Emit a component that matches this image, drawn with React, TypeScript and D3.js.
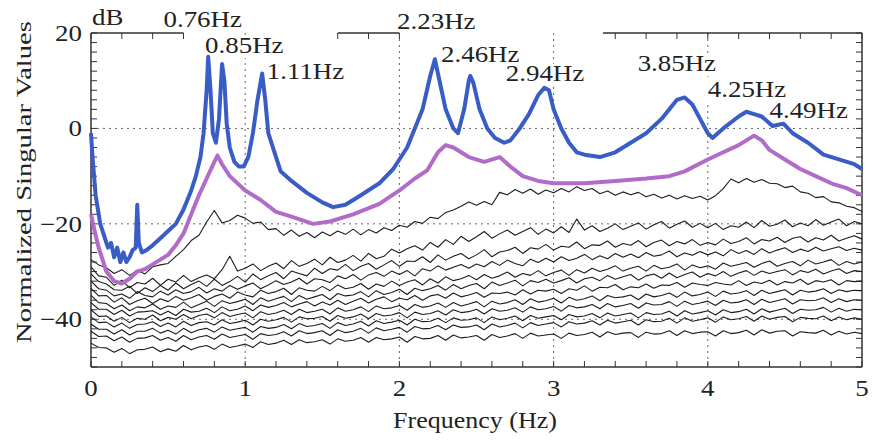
import React from "react";
import * as d3 from "d3";

const W = 872;
const H = 440;

// thin curves are sampled every 0.05 Hz
const gridFreq = d3.range(0, 101).map((i) => i * 0.05);

// 1st singular value (blue)
const blueFreq = [0, 0.01, 0.03, 0.06, 0.09, 0.11, 0.13, 0.15, 0.17, 0.19, 0.21, 0.23, 0.25, 0.27, 0.29, 0.3, 0.31, 0.33, 0.36, 0.4, 0.45, 0.5, 0.55, 0.6, 0.65, 0.68, 0.71, 0.73, 0.75, 0.76, 0.775, 0.79, 0.81, 0.83, 0.85, 0.865, 0.88, 0.9, 0.93, 0.96, 0.99, 1.02, 1.05, 1.08, 1.11, 1.13, 1.15, 1.19, 1.23, 1.3, 1.4, 1.5, 1.57, 1.65, 1.75, 1.87, 1.96, 2.05, 2.1, 2.15, 2.2, 2.23, 2.26, 2.3, 2.35, 2.38, 2.42, 2.45, 2.46, 2.48, 2.52, 2.57, 2.62, 2.68, 2.72, 2.78, 2.84, 2.9, 2.94, 2.97, 3.0, 3.05, 3.1, 3.15, 3.2, 3.3, 3.4, 3.5, 3.6, 3.7, 3.8, 3.85, 3.9, 3.95, 4.0, 4.03, 4.1, 4.2, 4.25, 4.3, 4.35, 4.42, 4.49, 4.55, 4.65, 4.75, 4.85, 4.95, 5.0];
const blueDb = [-1, -6, -14, -20, -23, -25, -24, -27, -25, -28, -26, -28, -27, -25.5, -25, -16, -24, -26, -25.5, -24.5, -23, -21.5, -20, -17, -13, -10, -6, -1, 8, 15, 8, -1, -3, 2, 13.5, 10, 1, -4, -7, -8, -8, -6, -1, 6, 11.5, 6, -1, -5, -9, -11, -13.5, -15.5, -16.5, -16, -14, -11.5, -8.5, -4, 0, 4, 11, 14.5, 10, 4, 0, -1, 4, 10, 11, 9.5, 4, 0, -2, -3, -2.5, 0, 3, 7, 8.5, 8, 4, 0, -3, -5, -5.5, -6, -5, -3, -1, 2, 6, 6.5, 5, 2, -1, -2, 0, 2.5, 3.5, 3, 2.5, 0.5, 1, -1, -3, -5.5, -6.5, -7.5, -8.5];

// 2nd singular value (purple)
const purpleFreq = [0, 0.02, 0.05, 0.1, 0.15, 0.2, 0.25, 0.3, 0.35, 0.4, 0.45, 0.5, 0.55, 0.6, 0.65, 0.7, 0.75, 0.8, 0.82, 0.85, 0.9, 1.0, 1.1, 1.2, 1.3, 1.44, 1.55, 1.7, 1.87, 2.0, 2.1, 2.18, 2.25, 2.3, 2.35, 2.45, 2.55, 2.65, 2.72, 2.8, 2.9, 3.0, 3.2, 3.4, 3.6, 3.75, 3.85, 4.0, 4.1, 4.2, 4.3, 4.35, 4.4, 4.5, 4.6, 4.7, 4.8, 4.9, 5.0];
const purpleDb = [-18, -21, -25, -30, -32, -32.5, -31.5, -30, -29.5, -28.5, -27.5, -26.5, -24.5, -22, -18, -14, -10.5, -7, -5.7, -7.5, -10, -13, -15, -17.5, -18.5, -20, -19.5, -18, -15.8, -13, -10.5, -8.8, -5, -3.5, -4, -6, -7, -6, -8, -10, -11, -11.5, -11.5, -11, -10.5, -10, -9, -6.5, -5, -3.5, -1.5, -2.5, -4.5, -6.5, -8.5, -10, -11.5, -12.5, -14];

// remaining singular values (thin black), one value per gridFreq
const sv3 = [
  -27.5, -28.6, -29.2, -30.4, -29.6, -30.8, -29.7, -30.5, -29.0, -28.6,
  -28.3, -26.8, -25.4, -23.5, -22.4, -19.6, -17.2, -19.8, -19.3, -18.2,
  -18.8, -19.9, -19.6, -21.2, -21.0, -22.4, -21.3, -22.6, -21.8, -22.9,
  -21.7, -22.5, -21.5, -22.2, -21.1, -22.3, -21.2, -21.9, -20.8, -21.4,
  -20.3, -20.7, -19.5, -19.9, -18.6, -18.9, -17.6, -17.1, -16.3, -15.4,
  -16.1, -15.3, -16.0, -13.4, -13.9, -12.8, -13.6, -12.7, -13.8, -12.9,
  -13.5, -12.6, -13.3, -12.2, -13.0, -12.6, -13.7, -13.1, -14.0, -13.3,
  -13.9, -13.4, -14.3, -13.8, -14.6, -14.0, -14.8, -14.1, -14.7, -14.2,
  -15.0, -14.1, -12.6, -10.6, -11.4, -10.5, -11.3, -10.7, -11.5, -11.6,
  -12.4, -12.1, -13.3, -13.6, -14.5, -14.3, -15.4, -15.6, -16.3, -16.6, -17.4,
];
const sv4 = [
  -29.0, -30.9, -31.2, -32.9, -31.8, -33.4, -32.3, -32.6, -31.4, -32.9,
  -31.6, -32.2, -30.8, -32.1, -31.3, -30.7, -31.5, -29.6, -26.8, -29.9,
  -29.3, -28.4, -29.8, -28.9, -28.2, -29.4, -27.7, -28.9, -28.3, -27.4,
  -28.6, -27.0, -28.1, -27.6, -26.6, -27.8, -26.2, -27.3, -26.8, -25.3,
  -26.1, -25.2, -24.6, -25.5, -23.9, -24.9, -23.3, -24.3, -22.6, -23.7,
  -22.7, -21.6, -23.0, -22.1, -21.3, -22.4, -21.6, -20.8, -22.2, -21.1,
  -21.9, -20.6, -21.8, -19.0, -21.3, -20.4, -21.6, -20.9, -20.0, -21.2,
  -20.5, -19.8, -21.1, -20.2, -19.5, -20.9, -20.1, -19.4, -20.7, -19.9,
  -20.8, -19.9, -21.2, -20.4, -20.7, -19.6, -20.8, -19.3, -20.5, -20.1,
  -19.2, -20.6, -19.8, -20.4, -19.1, -20.3, -19.6, -19.0, -20.4, -19.5, -20.0,
];
const sv5 = [
  -30.5, -32.1, -32.6, -33.8, -33.9, -33.1, -34.6, -33.4, -34.2, -32.9,
  -33.9, -32.4, -33.6, -32.7, -32.0, -33.1, -31.6, -32.9, -32.1, -31.0,
  -32.2, -30.5, -31.7, -30.9, -30.2, -31.5, -29.9, -30.4, -30.9, -29.3,
  -30.4, -29.4, -29.7, -28.5, -29.8, -28.9, -28.3, -29.5, -28.6, -27.7,
  -28.9, -27.8, -27.9, -26.9, -28.1, -26.5, -27.6, -26.8, -26.2, -27.3,
  -26.5, -25.4, -26.9, -25.9, -25.6, -24.9, -26.2, -25.0, -25.3, -24.3,
  -25.5, -24.7, -24.9, -23.8, -25.2, -24.4, -24.5, -23.6, -24.9, -24.1,
  -24.5, -23.5, -24.8, -23.9, -23.4, -24.6, -23.7, -24.2, -23.3, -24.5,
  -23.9, -24.4, -23.2, -24.1, -23.7, -22.9, -24.2, -23.3, -23.6, -22.8,
  -23.9, -23.0, -22.7, -23.8, -22.9, -23.4, -22.4, -23.6, -23.0, -22.5, -23.2,
];
const sv6 = [
  -32.0, -33.6, -33.9, -35.1, -34.7, -35.6, -34.2, -35.0, -35.3, -34.1,
  -34.9, -33.8, -34.6, -34.2, -33.3, -34.5, -33.6, -34.1, -32.9, -33.7,
  -33.0, -32.4, -33.6, -32.8, -31.9, -32.7, -32.2, -31.4, -32.6, -31.5,
  -31.7, -32.3, -30.9, -31.5, -30.6, -31.8, -30.7, -30.2, -31.0, -29.9,
  -30.6, -29.8, -30.9, -29.4, -29.9, -28.8, -29.7, -29.1, -28.5, -29.3,
  -28.4, -29.0, -27.9, -28.7, -27.6, -28.3, -28.8, -27.4, -28.1, -27.2,
  -28.0, -26.9, -27.7, -27.2, -26.4, -27.5, -26.7, -27.3, -26.2, -27.0,
  -26.3, -27.1, -26.0, -26.8, -26.5, -25.7, -26.9, -26.1, -26.6, -25.8,
  -26.5, -25.9, -26.7, -25.4, -26.2, -25.6, -26.4, -25.2, -26.1, -25.5,
  -25.0, -26.0, -25.3, -25.8, -24.9, -25.7, -25.2, -24.8, -25.6, -25.1, -25.5,
];
const sv7 = [
  -33.5, -35.1, -35.0, -36.4, -35.5, -36.9, -36.1, -35.6, -36.7, -35.7,
  -36.3, -35.2, -36.0, -35.5, -34.8, -36.0, -35.2, -34.7, -35.6, -34.3,
  -34.9, -35.3, -33.9, -34.6, -34.2, -33.5, -34.8, -33.4, -33.9, -34.1,
  -33.1, -34.0, -32.8, -33.6, -33.3, -32.5, -33.7, -32.6, -33.1, -32.0,
  -32.9, -32.2, -31.7, -32.8, -31.5, -32.4, -31.1, -31.9, -31.5, -30.8,
  -31.7, -30.6, -31.4, -30.9, -30.1, -31.2, -30.4, -30.8, -29.8, -30.9,
  -30.2, -29.7, -30.8, -29.6, -30.3, -29.3, -30.0, -29.5, -28.8, -29.9,
  -29.3, -28.9, -29.9, -28.7, -29.4, -29.1, -28.4, -29.7, -28.6, -29.2,
  -28.8, -29.5, -28.2, -28.9, -28.5, -28.1, -29.1, -28.3, -27.8, -28.9,
  -28.3, -27.9, -28.8, -27.6, -28.4, -28.0, -27.5, -28.7, -27.9, -28.4, -28.0,
];
const sv8 = [
  -35.0, -36.5, -36.7, -37.8, -37.0, -38.2, -37.4, -37.6, -36.8, -37.9,
  -37.2, -37.5, -36.4, -37.6, -36.9, -36.2, -37.3, -36.1, -36.7, -36.3,
  -35.8, -36.9, -35.5, -36.2, -35.7, -35.2, -36.3, -35.0, -35.8, -35.3,
  -34.8, -35.9, -34.6, -35.1, -34.9, -34.2, -35.3, -34.0, -34.8, -34.4,
  -33.7, -34.8, -33.5, -34.0, -33.6, -32.9, -33.9, -32.7, -33.6, -32.9,
  -32.5, -33.6, -32.2, -32.9, -32.4, -31.8, -33.0, -31.9, -32.3, -31.6,
  -32.4, -31.9, -31.3, -32.4, -31.5, -31.2, -31.9, -30.8, -31.6, -31.1,
  -30.6, -31.8, -30.9, -30.5, -31.4, -30.3, -31.3, -30.6, -30.1, -31.2,
  -30.4, -30.9, -30.0, -31.0, -30.3, -29.8, -30.8, -29.9, -30.4, -30.0,
  -29.6, -30.7, -29.8, -30.2, -29.5, -30.5, -29.9, -29.4, -30.4, -29.8, -30.0,
];
const sv9 = [
  -36.5, -37.9, -37.9, -39.0, -38.1, -39.3, -38.5, -38.4, -38.2, -39.1,
  -38.3, -39.2, -37.9, -38.5, -38.3, -37.7, -38.6, -37.4, -38.2, -37.9,
  -37.2, -38.2, -37.0, -37.5, -37.1, -36.5, -37.4, -36.8, -36.3, -37.2,
  -36.4, -37.0, -36.0, -36.9, -36.2, -35.6, -36.6, -35.8, -35.3, -36.3,
  -35.6, -35.9, -35.0, -36.0, -35.1, -34.8, -35.6, -34.5, -35.3, -34.9,
  -34.4, -35.4, -34.5, -34.6, -34.3, -34.9, -33.8, -34.7, -33.9, -34.1,
  -33.7, -34.6, -33.6, -33.9, -33.0, -34.1, -33.3, -33.4, -32.7, -33.8,
  -33.2, -33.4, -32.6, -33.5, -32.8, -32.9, -32.3, -33.3, -32.4, -32.7,
  -32.9, -32.3, -32.6, -32.8, -31.9, -32.9, -32.2, -32.5, -31.8, -32.8,
  -32.1, -32.4, -31.6, -32.7, -31.9, -32.2, -31.7, -32.8, -31.9, -32.1, -32.0,
];
const sv10 = [
  -38.0, -39.4, -39.3, -40.4, -39.6, -40.7, -39.8, -40.0, -39.1, -40.3,
  -39.6, -40.0, -39.0, -39.9, -39.2, -38.9, -39.7, -38.6, -39.4, -39.0,
  -38.7, -39.7, -38.4, -39.0, -38.7, -38.1, -39.0, -37.9, -38.6, -38.3,
  -37.9, -38.9, -37.6, -38.3, -38.0, -37.4, -38.4, -37.2, -37.8, -37.6,
  -37.1, -38.1, -36.9, -37.5, -37.2, -36.6, -37.5, -36.5, -37.2, -36.8,
  -36.3, -37.4, -36.2, -36.8, -36.5, -35.9, -36.9, -35.7, -36.4, -36.1,
  -35.6, -36.6, -35.4, -36.0, -35.7, -35.1, -36.1, -35.0, -35.5, -35.3,
  -34.9, -35.9, -34.7, -35.3, -35.0, -34.5, -35.4, -34.3, -35.1, -34.8,
  -34.3, -35.2, -34.1, -34.7, -34.5, -34.0, -35.0, -33.9, -34.6, -34.2,
  -33.8, -34.9, -33.9, -34.3, -34.1, -33.6, -34.6, -33.8, -34.2, -33.9, -34.0,
];
const sv11 = [
  -39.5, -40.7, -40.6, -41.6, -40.8, -41.9, -41.1, -41.0, -40.5, -41.5,
  -40.8, -41.6, -40.4, -41.3, -40.7, -40.5, -41.2, -40.1, -40.9, -40.6,
  -40.2, -41.2, -40.0, -40.4, -40.1, -39.6, -40.6, -39.5, -39.9, -39.8,
  -39.4, -40.4, -39.2, -39.8, -39.5, -38.9, -39.9, -38.8, -39.3, -39.1,
  -38.6, -39.7, -38.5, -39.0, -38.8, -38.2, -39.1, -38.0, -38.6, -38.4,
  -37.9, -38.9, -37.8, -38.3, -38.1, -37.6, -38.5, -37.4, -38.0, -37.8,
  -37.3, -38.3, -37.1, -37.6, -37.4, -36.9, -37.8, -36.7, -37.4, -37.1,
  -36.7, -37.7, -36.6, -37.0, -36.9, -36.3, -37.3, -36.2, -36.9, -36.6,
  -36.2, -37.1, -36.0, -36.6, -36.4, -35.9, -36.9, -35.8, -36.5, -36.1,
  -35.7, -36.8, -35.9, -36.1, -36.0, -35.5, -36.5, -35.7, -36.3, -35.9, -36.0,
];
const sv12 = [
  -41.0, -42.1, -42.1, -43.1, -42.2, -43.3, -42.5, -42.5, -41.9, -42.9,
  -42.3, -43.1, -41.9, -42.8, -42.2, -41.9, -42.7, -41.6, -42.3, -42.0,
  -41.7, -42.7, -41.5, -41.9, -41.7, -41.1, -42.0, -40.9, -41.5, -41.3,
  -40.9, -41.9, -40.7, -41.3, -41.0, -40.4, -41.4, -40.3, -40.9, -40.6,
  -40.2, -41.2, -40.0, -40.5, -40.4, -39.8, -40.7, -39.7, -40.2, -40.1,
  -39.7, -40.7, -39.5, -40.1, -39.8, -39.3, -40.3, -39.2, -39.8, -39.5,
  -39.2, -40.1, -39.0, -39.5, -39.3, -38.8, -39.7, -38.7, -39.3, -39.0,
  -38.7, -39.7, -38.6, -39.0, -38.9, -38.3, -39.3, -38.2, -38.9, -38.6,
  -38.2, -39.1, -38.0, -38.6, -38.4, -37.9, -38.9, -37.8, -38.5, -38.1,
  -37.7, -38.8, -37.9, -38.1, -38.0, -37.5, -38.5, -37.7, -38.3, -37.9, -38.0,
];
const sv13 = [
  -42.5, -43.6, -43.5, -44.5, -43.7, -44.8, -44.0, -43.9, -43.4, -44.4,
  -43.8, -44.6, -43.4, -44.3, -43.7, -43.4, -44.2, -43.1, -43.8, -43.5,
  -43.2, -44.2, -43.0, -43.4, -43.2, -42.6, -43.5, -42.4, -43.0, -42.8,
  -42.4, -43.4, -42.2, -42.8, -42.5, -41.9, -42.9, -41.8, -42.4, -42.1,
  -41.7, -42.7, -41.5, -42.0, -41.9, -41.3, -42.2, -41.2, -41.7, -41.6,
  -41.2, -42.2, -41.0, -41.6, -41.3, -40.8, -41.8, -40.7, -41.3, -41.0,
  -40.7, -41.6, -40.5, -41.0, -40.8, -40.3, -41.2, -40.2, -40.8, -40.5,
  -40.2, -41.2, -40.1, -40.5, -40.4, -39.8, -40.8, -39.7, -40.4, -40.1,
  -39.7, -40.6, -39.5, -40.1, -39.9, -39.4, -40.4, -39.3, -40.0, -39.6,
  -39.4, -40.5, -39.6, -39.8, -39.9, -39.3, -40.3, -39.5, -40.1, -39.7, -40.0,
];
const sv14 = [
  -45.0, -45.9, -46.0, -46.9, -46.1, -47.2, -46.4, -46.3, -45.8, -46.8,
  -46.2, -46.7, -45.5, -46.4, -45.8, -45.5, -46.3, -45.2, -45.9, -45.6,
  -45.2, -45.9, -44.7, -45.3, -45.0, -44.4, -45.3, -44.3, -44.9, -44.7,
  -44.3, -45.2, -44.1, -44.6, -44.4, -43.8, -44.8, -43.8, -44.3, -44.1,
  -43.7, -44.8, -43.6, -44.1, -44.0, -43.4, -44.4, -43.3, -43.9, -43.7,
  -43.4, -44.4, -43.2, -43.8, -43.5, -43.0, -44.0, -42.9, -43.5, -43.3,
  -43.1, -44.0, -42.9, -43.4, -43.2, -42.7, -43.7, -42.6, -43.2, -42.9,
  -42.8, -43.8, -42.7, -43.1, -43.0, -42.4, -43.4, -42.4, -43.0, -42.7,
  -42.6, -43.5, -42.4, -43.0, -42.8, -42.3, -43.3, -42.2, -42.9, -42.5,
  -42.4, -43.5, -42.6, -42.8, -42.9, -42.3, -43.3, -42.5, -43.1, -42.7, -43.0,
];
const blackSeries = [sv3, sv4, sv5, sv6, sv7, sv8, sv9, sv10, sv11, sv12, sv13, sv14];

// peak annotations
const peakLabels = ["0.76Hz", "0.85Hz", "1.11Hz", "2.23Hz", "2.46Hz", "2.94Hz", "3.85Hz", "4.25Hz", "4.49Hz"];
const labelFreq = [0.47, 0.74, 1.14, 1.985, 2.27, 2.69, 3.545, 4.0, 4.4];
const labelDb = [21.3, 15.8, 10.3, 20.8, 14.0, 10.0, 12.0, 6.6, 2.2];

const xTicks = [0, 1, 2, 3, 4, 5];
const yTicks = [20, 0, -20, -40];
const xGrid = [1, 2, 3, 4];
const yGrid = [0, -20, -40];
// pieces of the top frame that are drawn (Hz)
const topSegments = [[0, 0.6], [1.6, 2.0], [3.32, 5]];

const x = d3.scaleLinear().domain([0, 5]).range([91, 862]);
const y = d3.scaleLinear().domain([-50, 20]).range([367, 33]);

const Txt = ({ tx, ty, size = 23, sx = 1.17, anchor = "start", rot = 0, children }: any) => (
  <text
    transform={`translate(${tx},${ty}) rotate(${rot}) scale(${sx},1)`}
    fontSize={size}
    textAnchor={anchor}
    fill="#222"
  >
    {children}
  </text>
);

export default function App() {
  const pairLine = d3.line<[number, number]>().x((d) => x(d[0])).y((d) => y(d[1]));
  const gridLine = d3.line<number>().x((_, i) => x(gridFreq[i])).y((d) => y(d));

  const bluePath = pairLine(blueFreq.map((f, i) => [f, blueDb[i]]));
  const purplePath = pairLine(purpleFreq.map((f, i) => [f, purpleDb[i]]));

  const minorX = d3.range(0, 26).map((i) => i * 0.2);
  const minorY = d3.range(0, 36).map((i) => -50 + i * 2);
  const axisColor = "#333";

  return (
    <>
      <style>{`body{margin:0;overflow:hidden;background:#fff}`}</style>
      <svg width={W} height={H} style={{ display: "block" }} fontFamily="'Liberation Serif','Times New Roman',serif">
        <rect width={W} height={H} fill="#fff" />

        {/* dotted grid */}
        {yGrid.map((v) => (
          <line key={"gy" + v} x1={x(0)} x2={x(5)} y1={y(v)} y2={y(v)} stroke="#666" strokeDasharray="2,4" />
        ))}
        {xGrid.map((v) => (
          <line key={"gx" + v} x1={x(v)} x2={x(v)} y1={y(20)} y2={y(-50)} stroke="#666" strokeDasharray="2,4" />
        ))}

        {/* label backgrounds hide the grid */}
        {peakLabels.map((t, i) => (
          <rect key={"bg" + t} x={x(labelFreq[i]) - 1} y={y(labelDb[i]) - 17} width={80} height={22} fill="#fff" />
        ))}

        {/* frame */}
        <line x1={x(0)} x2={x(0)} y1={y(20)} y2={y(-50)} stroke={axisColor} strokeWidth={1.5} />
        <line x1={x(5)} x2={x(5)} y1={y(20)} y2={y(-50)} stroke={axisColor} strokeWidth={1.5} />
        <line x1={x(0)} x2={x(5)} y1={y(-50)} y2={y(-50)} stroke={axisColor} strokeWidth={1.5} />
        {topSegments.map((s) => (
          <line key={"ts" + s[0]} x1={x(s[0])} x2={x(s[1])} y1={y(20)} y2={y(20)} stroke={axisColor} strokeWidth={1.5} />
        ))}
        {minorX.map((v) => (
          <line key={"bx" + v} x1={x(v)} x2={x(v)} y1={y(-50)} y2={y(-50) - 6} stroke={axisColor} />
        ))}
        {minorX
          .filter((v) => topSegments.some((s) => v >= s[0] - 1e-6 && v <= s[1] + 1e-6))
          .map((v) => (
            <line key={"tx" + v} x1={x(v)} x2={x(v)} y1={y(20)} y2={y(20) + 6} stroke={axisColor} />
          ))}
        {minorY.map((v) => (
          <g key={"my" + v}>
            <line x1={x(0)} x2={x(0) + 6} y1={y(v)} y2={y(v)} stroke={axisColor} />
            <line x1={x(5)} x2={x(5) - 6} y1={y(v)} y2={y(v)} stroke={axisColor} />
          </g>
        ))}

        {/* curves */}
        {blackSeries.map((s, i) => (
          <path key={"sv" + i} d={gridLine(s) || ""} fill="none" stroke="#1c1c1c" strokeWidth={1.1} strokeLinejoin="round" />
        ))}
        <path d={purplePath || ""} fill="none" stroke="#b06cc6" strokeWidth={4} strokeLinejoin="round" />
        <path d={bluePath || ""} fill="none" stroke="#3a5cc5" strokeWidth={4} strokeLinejoin="round" />

        {/* tick labels */}
        {yTicks.map((v) => (
          <Txt key={"yl" + v} tx={x(0) - 9} ty={y(v) + 8} anchor="end">
            {v < 0 ? "\u2212" + Math.abs(v) : String(v)}
          </Txt>
        ))}
        {xTicks.map((v) => (
          <Txt key={"xl" + v} tx={x(v)} ty={396} anchor="middle">
            {String(v)}
          </Txt>
        ))}
        <Txt tx={x(0) + 1} ty={25}>dB</Txt>

        {/* peak labels */}
        {peakLabels.map((t, i) => (
          <Txt key={"pl" + t} tx={x(labelFreq[i])} ty={y(labelDb[i])}>
            {t}
          </Txt>
        ))}

        {/* axis titles */}
        <Txt tx={475} ty={428} size={23} sx={1.13} anchor="middle">Frequency (Hz)</Txt>
        <Txt tx={31} ty={182} size={22} sx={1.3} anchor="middle" rot={-90}>Normalized Singular Values</Txt>
      </svg>
    </>
  );
}
